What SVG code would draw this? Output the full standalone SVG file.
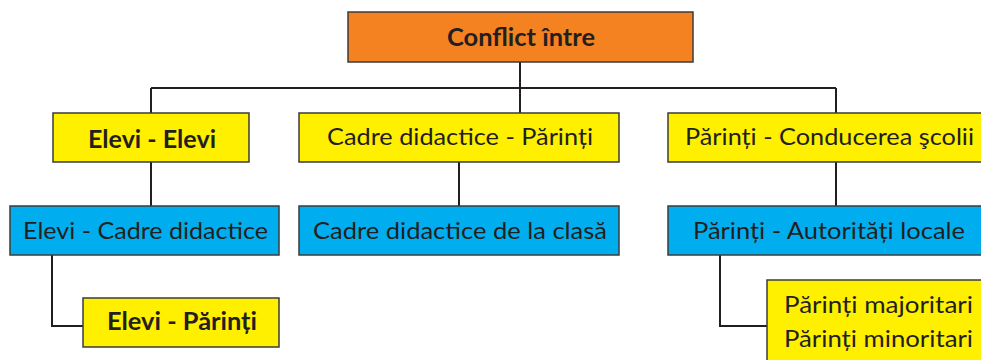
<svg xmlns="http://www.w3.org/2000/svg" width="981" height="360" viewBox="0 0 981 360">
<style>
.box{stroke:#3b3b3b;stroke-width:1.5}
.o{fill:#F58220}.y{fill:#FFF000}.b{fill:#00AEEF}
.t{font-family:Lato,"Open Sans",sans-serif;font-size:24px;fill:#231F20}
.bd{font-weight:bold}
.c{fill:none;stroke:#231F20;stroke-width:2}
</style>
<rect width="981" height="360" fill="#fff"/>
<g id="connectors" class="c">
<path d="M520 62V88M151 88H836M151 88V113M520 88V113M836 88V113"/>
<path d="M151 162V206M459 162V206M836 162V206"/>
<path d="M52 255V326H83M720 255V326H767"/>
</g>
<g id="n0"><rect class="box o" x="348" y="12" width="345" height="50"/><text class="t bd" x="447" y="46" textLength="148" lengthAdjust="spacingAndGlyphs">Conflict între</text></g>
<g id="n1"><rect class="box y" x="53" y="113" width="196" height="49"/><text class="t bd" x="88" y="148" textLength="128" lengthAdjust="spacingAndGlyphs">Elevi - Elevi</text></g>
<g id="n2"><rect class="box y" x="299" y="113" width="320" height="49"/><text class="t" x="327" y="145" textLength="266" lengthAdjust="spacingAndGlyphs">Cadre didactice - Părinți</text></g>
<g id="n3"><rect class="box y" x="668" y="113" width="320" height="49"/><text class="t" x="685" y="145" textLength="289" lengthAdjust="spacingAndGlyphs">Părinți - Conducerea şcolii</text></g>
<g id="n4"><rect class="box b" x="10" y="206" width="269" height="49"/><text class="t" x="23" y="239" textLength="245" lengthAdjust="spacingAndGlyphs">Elevi - Cadre didactice</text></g>
<g id="n5"><rect class="box b" x="299" y="206" width="320" height="49"/><text class="t" x="313" y="239" textLength="294" lengthAdjust="spacingAndGlyphs">Cadre didactice de la clasă</text></g>
<g id="n6"><rect class="box b" x="668" y="206" width="320" height="49"/><text class="t" x="693" y="239" textLength="272" lengthAdjust="spacingAndGlyphs">Părinți - Autorități locale</text></g>
<g id="n7"><rect class="box y" x="83" y="298" width="196" height="49"/><text class="t bd" x="107" y="330" textLength="150" lengthAdjust="spacingAndGlyphs">Elevi - Părinți</text></g>
<g id="n8"><rect class="box y" x="767" y="280" width="230" height="90"/><text class="t" x="784" y="313" textLength="189" lengthAdjust="spacingAndGlyphs">Părinți majoritari</text><text class="t" x="784" y="347" textLength="189" lengthAdjust="spacingAndGlyphs">Părinți minoritari</text></g>
</svg>
